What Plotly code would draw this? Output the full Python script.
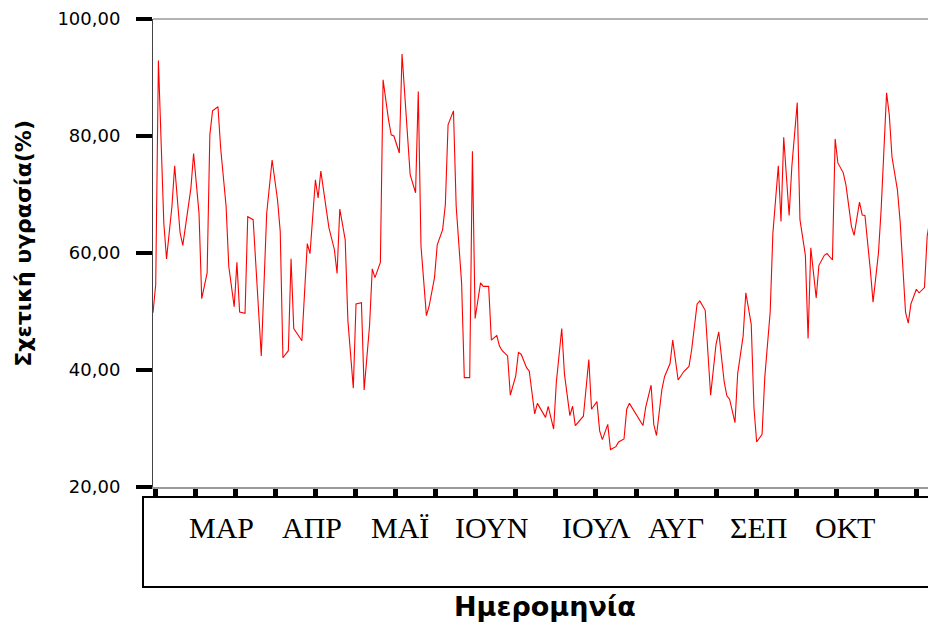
import plotly.graph_objects as go

# Daily relative humidity (%), day number counted from the first observation
day = [1, 2, 3, 5, 6, 8, 9, 11, 12, 15, 16, 18, 19, 21, 22, 23, 25, 26, 28, 29,
       31, 32, 33, 35, 36, 38, 41, 43, 45, 47, 48, 49, 51, 52, 53, 56, 58, 59, 61, 62,
       63, 66, 68, 69, 70, 72, 73, 75, 76, 78, 79, 81, 82, 83, 85, 86, 88, 89, 90, 92,
       93, 96, 98, 99, 100, 102, 103, 105, 106, 108, 109, 110, 112, 113, 115, 116, 118, 119, 120, 122,
       123, 125, 126, 128, 129, 130, 132, 133, 135, 136, 137, 139, 140, 142, 143, 145, 146, 147, 149, 150,
       152, 153, 155, 156, 157, 160, 162, 163, 165, 166, 167, 169, 170, 172, 173, 175, 176, 177, 182, 183,
       185, 186, 187, 189, 190, 192, 193, 195, 196, 197, 199, 200, 202, 203, 205, 207, 209, 210, 212, 213,
       214, 216, 217, 219, 220, 222, 223, 224, 226, 227, 229, 230, 232, 233, 234, 236, 237, 239, 240, 242,
       243, 244, 246, 247, 249, 250, 252, 253, 254, 256, 257, 259, 260, 262, 263, 264, 266, 267, 269, 270,
       272, 273, 274, 276, 277, 279, 280, 281, 283, 284, 286, 287, 288]

rh = [49.8, 54.6, 92.9, 65.1, 59.0, 68.0, 74.9, 63.5, 61.3, 71.1, 77.0, 66.8, 52.2, 56.6, 80.2, 84.3, 85.0, 77.9, 68.0, 57.7,
      50.8, 58.4, 49.9, 49.7, 66.2, 65.7, 42.4, 66.8, 75.9, 69.1, 63.7, 42.1, 43.3, 59.0, 47.1, 45.0, 61.6, 59.9, 72.5, 69.4,
      74.0, 64.3, 60.6, 56.5, 67.5, 62.3, 48.4, 36.9, 51.3, 51.5, 36.6, 47.6, 57.3, 55.8, 58.4, 89.6, 82.8, 80.2, 80.0, 77.1,
      94.0, 73.4, 70.3, 87.6, 61.2, 49.3, 50.9, 55.8, 61.4, 64.0, 68.3, 81.9, 84.3, 68.0, 54.9, 38.7, 38.7, 77.4, 48.8, 54.9,
      54.3, 54.3, 45.1, 45.9, 44.1, 43.3, 42.4, 35.7, 39.0, 43.0, 42.7, 40.4, 39.8, 32.5, 34.3, 32.8, 31.9, 33.8, 29.9, 37.9,
      47.1, 39.3, 32.2, 33.8, 30.5, 32.1, 41.8, 33.3, 34.6, 29.6, 28.1, 30.7, 26.4, 26.9, 27.7, 28.2, 33.3, 34.3, 30.5, 33.6,
      37.4, 30.7, 28.8, 36.7, 38.9, 41.1, 45.1, 38.3, 38.9, 39.7, 40.6, 43.5, 51.3, 51.8, 50.2, 35.7, 44.4, 46.5, 38.0, 35.6,
      35.0, 31.0, 39.4, 45.8, 53.2, 47.8, 33.6, 27.7, 29.0, 38.7, 49.9, 63.4, 74.9, 65.4, 79.8, 66.4, 74.8, 85.7, 65.7, 59.6,
      45.4, 60.9, 52.3, 57.9, 59.6, 59.9, 58.8, 79.5, 75.4, 73.7, 71.6, 64.6, 63.0, 68.7, 66.5, 66.4, 57.1, 51.6, 60.0, 67.5,
      87.4, 83.6, 76.4, 70.8, 65.4, 49.9, 48.0, 51.3, 53.8, 53.2, 54.1, 62.9, 65.7]

y_ticks = [20, 40, 60, 80, 100]
months = ["ΜΑΡ", "ΑΠΡ", "ΜΑΪ", "ΙΟΥΝ", "ΙΟΥΛ", "ΑΥΓ", "ΣΕΠ", "ΟΚΤ"]
month_mid = [26.2, 59.8, 92.3, 126.3, 164.7, 194.3, 224.6, 256.7]

y_title = "Σχετική υγρασία(%)"
x_title = "Ημερομηνία"

fig = go.Figure()
fig.add_trace(go.Scatter(
    x=day, y=rh, mode="lines",
    line=dict(color="#ff0000", width=1.1),
    hoverinfo="x+y", showlegend=False,
))

# Category label box under the time axis
fig.add_shape(type="rect", xref="paper", yref="paper",
              x0=-0.0129, x1=1.02, y0=-0.2137, y1=-0.0214,
              line=dict(color="black", width=2), fillcolor="rgba(0,0,0,0)")
# top frame line
fig.add_shape(type="line", xref="paper", yref="paper",
              x0=0, x1=1, y0=1, y1=1, line=dict(color="#666666", width=1.2))

for name, pos in zip(months, month_mid):
    fig.add_annotation(x=pos, y=-0.0855, xref="x", yref="paper", text=name,
                       showarrow=False, xanchor="center", yanchor="middle",
                       font=dict(family="Liberation Serif", size=30, color="black"))

fig.add_annotation(x=0.506, y=-0.256, xref="paper", yref="paper", text=x_title,
                   showarrow=False, xanchor="center", yanchor="middle",
                   font=dict(family="DejaVu Sans", size=27, color="black", weight="bold"))
fig.add_annotation(x=-0.167, y=0.521, xref="paper", yref="paper", text=y_title,
                   showarrow=False, xanchor="center", yanchor="middle", textangle=-90,
                   font=dict(family="DejaVu Sans", size=22, color="black", weight="bold"))

fig.update_layout(
    width=928, height=622,
    margin=dict(l=153, r=0, t=19, b=135),
    paper_bgcolor="white", plot_bgcolor="white",
    separators=",.",
    showlegend=False,
    xaxis=dict(
        range=[1, 287.3], showgrid=False, zeroline=False,
        showline=True, linecolor="#999999", linewidth=1.5,
        ticks="outside", ticklen=9, tickwidth=5, tickcolor="black",
        tickmode="linear", tick0=1.74, dtick=14.81,
        showticklabels=False,
    ),
    yaxis=dict(
        range=[20, 100], showgrid=False, zeroline=False,
        showline=True, linecolor="#444444", linewidth=1,
        ticks="outside", ticklen=16, tickwidth=4, tickcolor="black",
        tickmode="array", tickvals=y_ticks, tickformat=".2f",
        ticklabelstandoff=12,
        tickfont=dict(family="DejaVu Sans", size=18, color="black"),
    ),
)

fig.write_html("out.html")
